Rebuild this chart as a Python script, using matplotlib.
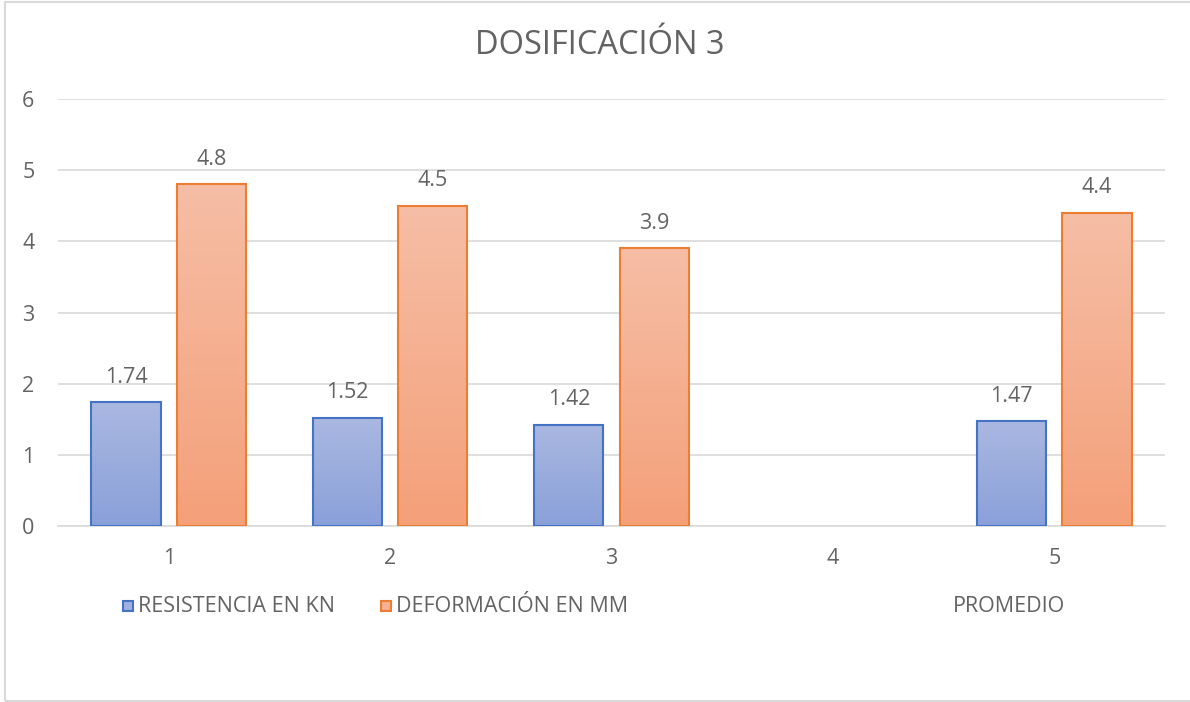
import numpy as np
import matplotlib
matplotlib.use("Agg")
import matplotlib.pyplot as plt
from matplotlib.patches import Rectangle
from matplotlib.colors import LinearSegmentedColormap

plt.rcParams['font.family'] = ['Open Sans', 'DejaVu Sans']

categories = ["1", "2", "3", "4", "5"]
resistencia = [1.74, 1.52, 1.42, None, 1.47]
deformacion = [4.8, 4.5, 3.9, None, 4.4]
series_names = ["RESISTENCIA EN KN", "DEFORMACIÓN EN MM", "PROMEDIO"]
title = "DOSIFICACIÓN 3"
y_ticks = [0, 1, 2, 3, 4, 5, 6]

TEXT = "#636363"
GRID = "#D9D9D9"
FS = 15.5

W, H = 1190, 702
fig = plt.figure(figsize=(W / 100, H / 100), dpi=100)
ax = fig.add_axes([58 / W, 1 - 526 / H, (1165 - 58) / W, (526 - 99) / H])

blue_cmap = LinearSegmentedColormap.from_list("b", ["#8AA0D9", "#AAB8E1"])
orange_cmap = LinearSegmentedColormap.from_list("o", ["#F4A079", "#F6BEA6"])

x = np.arange(1, len(categories) + 1)
width = 0.312
offset = 0.193


def gradient_bars(xs, vals, cmap, edge):
    grad = np.linspace(0, 1, 256).reshape(-1, 1)
    for xi, v in zip(xs, vals):
        if v is None:
            continue
        bar = ax.bar(xi, v, width, facecolor="none", edgecolor=edge,
                     linewidth=1.5, zorder=3)[0]
        im = ax.imshow(grad, cmap=cmap, origin="lower", aspect="auto",
                       extent=(xi - width / 2, xi + width / 2, 0, v), zorder=2)
        im.set_clip_path(bar)
        ax.annotate(f"{v:g}", (xi, v), xytext=(0, 18), textcoords="offset points",
                    ha="center", va="center", fontsize=FS, color=TEXT)


gradient_bars(x - offset, resistencia, blue_cmap, "#4472C4")
gradient_bars(x + offset, deformacion, orange_cmap, "#ED7D31")

ax.set_xlim(0.5, len(categories) + 0.5)
ax.set_ylim(0, 6)
ax.set_yticks(y_ticks)
ax.set_xticks(x)
ax.set_xticklabels(categories)
ax.tick_params(axis="both", length=0, labelsize=FS, colors=TEXT)
ax.tick_params(axis="y", pad=17)
ax.tick_params(axis="x", pad=16)
ax.grid(axis="y", color=GRID, linewidth=1.2, zorder=0)
ax.set_axisbelow(True)
for s in ax.spines.values():
    s.set_visible(False)
ax.spines["bottom"].set_visible(True)
ax.spines["bottom"].set_color(GRID)
ax.spines["bottom"].set_linewidth(1.2)

fig.text(600 / W, 1 - 46 / H, title, ha="center", va="center",
         fontsize=23.5, color=TEXT)

# legend entries: (label, face, edge, x of marker in px)
legend_items = [
    (series_names[0], "#A0B0DE", "#4472C4", 123),
    (series_names[1], "#F6B092", "#ED7D31", 381),
    (series_names[2], None, None, 953),
]
ly = 606
for label, face, edge, px in legend_items:
    if face is not None:
        fig.add_artist(Rectangle((px / W, 1 - (ly + 5) / H), 10 / W, 10 / H,
                                 transform=fig.transFigure, facecolor=face,
                                 edgecolor=edge, linewidth=1.5))
        tx = px + 15
    else:
        tx = px
    fig.text(tx / W, 1 - ly / H, label, ha="left", va="center",
             fontsize=FS, color=TEXT)

# chart frame
fig.add_artist(Rectangle((5 / W, 1 / H), 1.2, 1 - 2.5 / H,
                         transform=fig.transFigure, facecolor="none",
                         edgecolor=GRID, linewidth=1.5))

fig.savefig("out.png", dpi=100, facecolor="white")
